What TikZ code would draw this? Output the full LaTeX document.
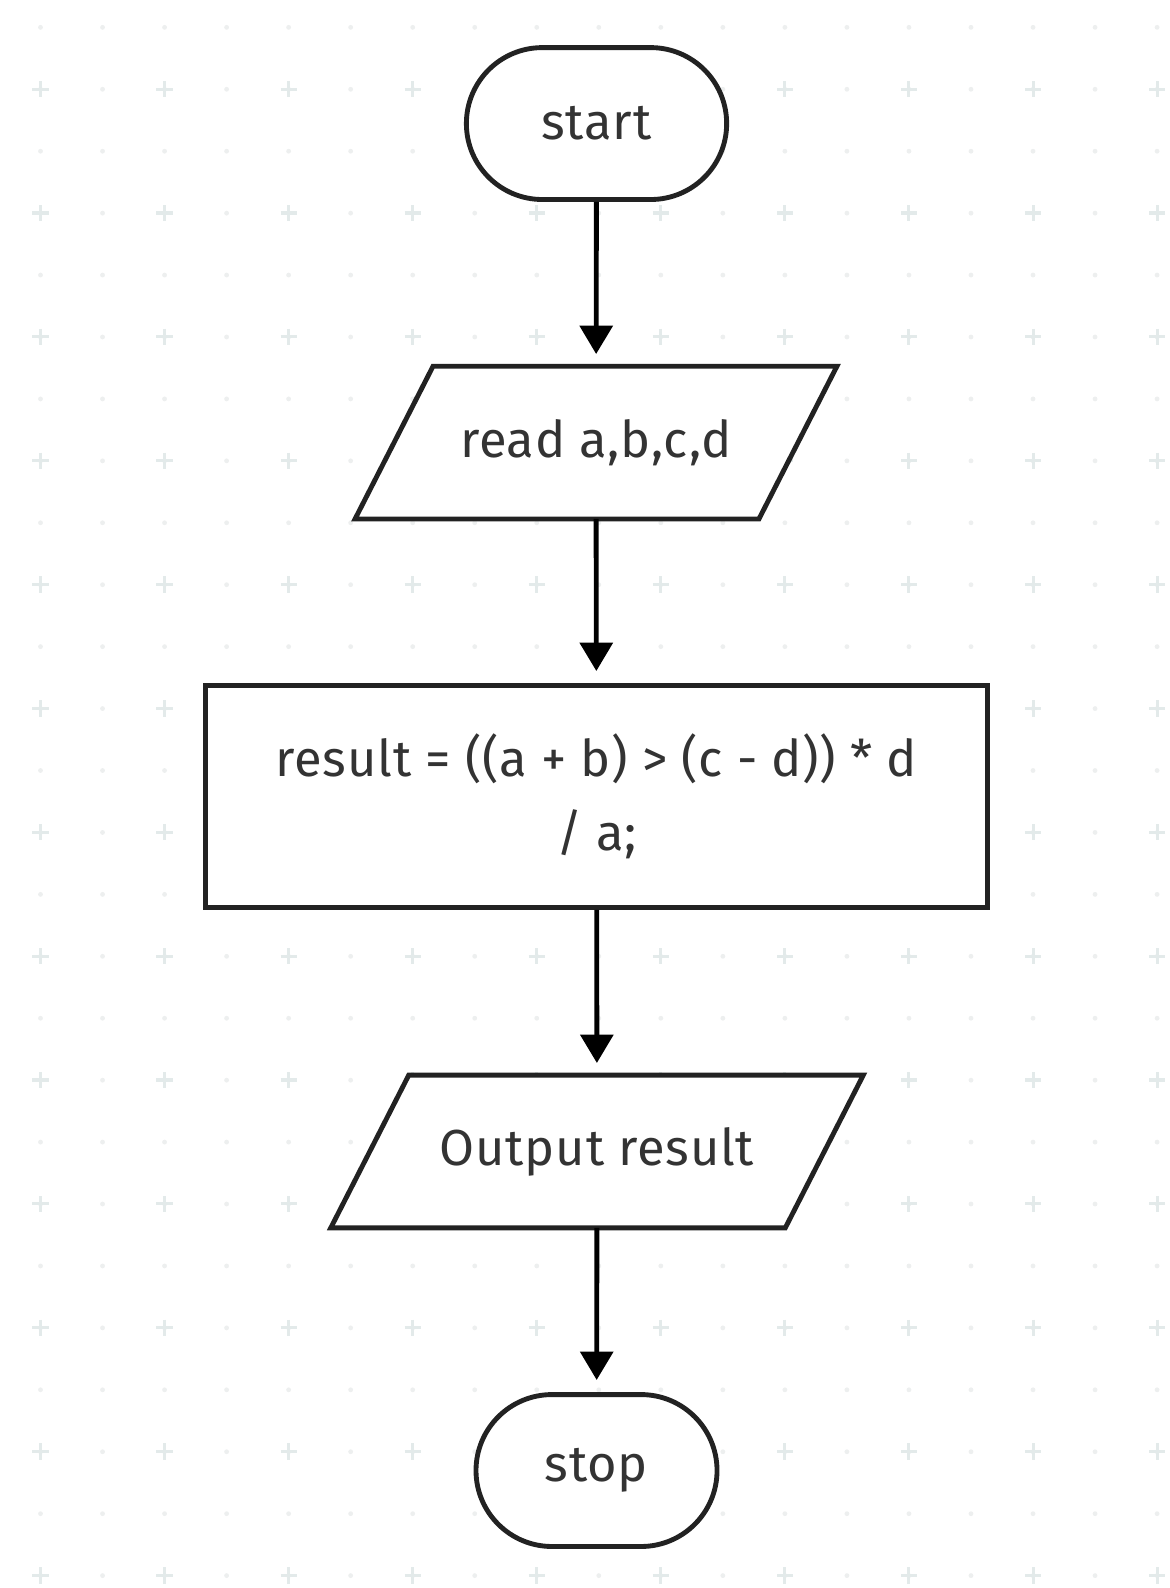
\documentclass[tikz,border=0pt]{standalone}
\usepackage{fontspec}
\setmainfont{Fira Sans}[LetterSpace=1.5]
\usetikzlibrary{arrows.meta,backgrounds}

\definecolor{inkgray}{HTML}{333333}
\definecolor{edgegray}{HTML}{222222}
\definecolor{crossgray}{HTML}{E3EAEA}
\definecolor{dotgray}{HTML}{EDEFEF}

\newcommand\flowfont{\fontsize{25}{36.5}\selectfont}

\tikzset{
  terminal/.style={draw=edgegray, fill=white, line width=2.4pt, rounded corners=37.5pt,
    minimum height=75pt, inner sep=0pt, font=\flowfont, text=inkgray},
  iobox/.style={minimum height=75pt, inner sep=0pt, font=\flowfont, text=inkgray},
  procbox/.style={draw=edgegray, fill=white, line width=2.4pt, minimum width=386pt,
    minimum height=109.5pt, align=center, font=\flowfont, text=inkgray},
  ioline/.style={draw=edgegray, fill=white, line width=2.4pt, line join=miter},
  flow/.style={line width=2.4pt, draw=black, shorten >=6pt,
    -{Triangle[length=14pt,width=16pt]}},
}

\begin{document}
\begin{tikzpicture}[x=0.5pt,y=-0.5pt]
  \useasboundingbox (0,0) rectangle (1155,1568);

  % nodes
  \node[terminal, minimum width=128.5pt] (start) at (589,122) {start};
  \node[iobox, minimum width=237.5pt] (read) at (588.5,437) {read a,b,c,d};
  \node[procbox] (calc) at (589,786.5) {result = ((a + b) > (c - d)) * d\\ / a;};
  \node[iobox, minimum width=262.5pt] (out) at (589.5,1137) {Output result};
  \node[terminal, minimum width=119pt] (stop) at (589,1452) {stop};

  \begin{pgfonlayer}{background}
    % dotted grid
    \foreach \i in {0,...,18}
      \foreach \j in {0,...,25}
        \fill[dotgray] ({40+61.25*\i},{27+61.15*\j}) circle (1.2pt);
    \foreach \i in {0,...,9}
      \foreach \j in {0,...,12}
        \draw[crossgray, line width=1.5pt]
          ({40+122.5*\i-8},{88+122.3*\j}) -- ++(16,0)
          ({40+122.5*\i},{88+122.3*\j-8}) -- ++(0,16);
    % slanted input/output boxes
    \foreach \n in {read,out}
      \path[ioline] (\n.south west) -- ([xshift=38.5pt]\n.north west)
        -- (\n.north east) -- ([xshift=-38.5pt]\n.south east) -- cycle;
  \end{pgfonlayer}

  % connectors
  \draw[flow] (start) -- (read);
  \draw[flow] (read) -- (calc);
  \draw[flow] (calc) -- (out);
  \draw[flow] (out) -- (stop);
\end{tikzpicture}
\end{document}
